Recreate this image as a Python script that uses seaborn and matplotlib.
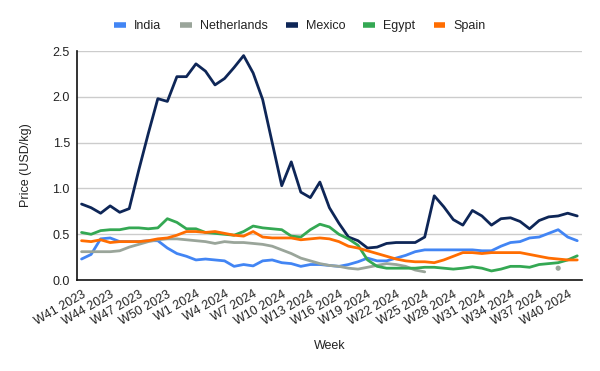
import matplotlib.pyplot as plt
import matplotlib.transforms as mtransforms
import pandas as pd
import seaborn as sns
from matplotlib.lines import Line2D

# Week categories (W41 2023 .. W41 2024)
weeks = [f"W{w} 2023" for w in range(41, 53)] + [f"W{w} 2024" for w in range(1, 42)]

# Prices in USD/kg
india = [0.23, 0.28, 0.45, 0.46, 0.42, 0.42, 0.42, 0.43, 0.43, 0.35,
         0.29, 0.26, 0.22, 0.23, 0.22, 0.21, 0.15, 0.17, 0.155, 0.21,
         0.22, 0.19, 0.18, 0.15, 0.17, 0.17, 0.16, 0.15, 0.17, 0.20,
         0.24, 0.21, 0.21, 0.24, 0.27, 0.31, 0.33, 0.33, 0.33, 0.33,
         0.33, 0.33, 0.32, 0.32, 0.37, 0.41, 0.42, 0.46, 0.47, 0.51,
         0.55, 0.47, 0.43]
netherlands = [0.31, 0.31, 0.31, 0.31, 0.32, 0.36, 0.39, 0.42, 0.44, 0.45,
               0.45, 0.44, 0.43, 0.42, 0.40, 0.42, 0.41, 0.41, 0.40, 0.39,
               0.37, 0.33, 0.29, 0.24, 0.21, 0.18, 0.16, 0.15, 0.13, 0.12,
               0.14, 0.16, 0.18, 0.17, 0.15, 0.11, 0.09, None, None, None,
               None, None, None, None, None, None, None, None, None, None,
               0.13, None, None]
mexico = [0.83, 0.79, 0.73, 0.81, 0.74, 0.78, 1.20, 1.60, 1.98, 1.95,
          2.22, 2.22, 2.36, 2.28, 2.13, 2.20, 2.32, 2.45, 2.26, 1.97,
          1.50, 1.03, 1.29, 0.96, 0.90, 1.07, 0.79, 0.62, 0.47, 0.43,
          0.35, 0.36, 0.40, 0.41, 0.41, 0.41, 0.47, 0.92, 0.80, 0.66,
          0.60, 0.76, 0.70, 0.60, 0.67, 0.68, 0.64, 0.56, 0.65, 0.69,
          0.70, 0.73, 0.70]
egypt = [0.52, 0.50, 0.54, 0.55, 0.55, 0.57, 0.57, 0.56, 0.57, 0.67,
         0.63, 0.56, 0.56, 0.52, 0.51, 0.50, 0.49, 0.53, 0.59, 0.57,
         0.56, 0.55, 0.48, 0.47, 0.55, 0.61, 0.58, 0.50, 0.45, 0.38,
         0.22, 0.15, 0.13, 0.13, 0.13, 0.13, 0.14, 0.14, 0.13, 0.12,
         0.13, 0.145, 0.13, 0.10, 0.12, 0.15, 0.15, 0.14, 0.17, 0.18,
         0.19, 0.22, 0.265]
spain = [0.43, 0.42, 0.44, 0.41, 0.42, 0.42, 0.42, 0.43, 0.45, 0.46,
         0.49, 0.53, 0.53, 0.52, 0.53, 0.51, 0.49, 0.48, 0.53, 0.47,
         0.46, 0.46, 0.46, 0.44, 0.45, 0.46, 0.45, 0.42, 0.37, 0.35,
         0.32, 0.29, 0.26, 0.23, 0.21, 0.20, 0.20, 0.19, 0.22, 0.26,
         0.30, 0.30, 0.29, 0.30, 0.30, 0.30, 0.30, 0.28, 0.26, 0.24,
         0.23, 0.22, 0.22]

countries = ["India", "Netherlands", "Mexico", "Egypt", "Spain"]
colors = {"India": "#4285F4", "Netherlands": "#9AA59A", "Mexico": "#0E2657",
          "Egypt": "#34A853", "Spain": "#FF6D01"}

df = pd.DataFrame({"week": weeks, "India": india, "Netherlands": netherlands,
                   "Mexico": mexico, "Egypt": egypt, "Spain": spain})
long = df.melt(id_vars="week", var_name="country", value_name="price")
long["pos"] = long["week"].map({w: i for i, w in enumerate(weeks)})
long = long.dropna(subset=["price"]).copy()
long["price"] = long["price"].astype(float)
# split lines where data is missing
long["run"] = long.groupby("country")["pos"].transform(lambda p: (p.diff() != 1).cumsum())
run_size = long.groupby(["country", "run"])["pos"].transform("size")

sns.set_theme(style="white")
plt.rcParams["font.family"] = ["Liberation Sans", "DejaVu Sans"]

fig, ax = plt.subplots(figsize=(6, 3.71), dpi=100)
fig.subplots_adjust(left=0.128, right=0.97, top=0.8625, bottom=0.245)

sns.lineplot(data=long, x="pos", y="price", hue="country", units="run",
             estimator=None, palette=colors, hue_order=countries,
             linewidth=2, legend=False, ax=ax)
singles = long[run_size == 1]
sns.scatterplot(data=singles, x="pos", y="price", hue="country", palette=colors,
                s=14, edgecolor="none", legend=False, ax=ax, zorder=3)

ax.set_xlim(-0.5, len(weeks) - 0.5)
ax.set_ylim(0, 2.5)
ax.set_yticks([0, 0.5, 1.0, 1.5, 2.0, 2.5])
ax.set_yticklabels(["0.0", "0.5", "1.0", "1.5", "2.0", "2.5"], fontsize=9, color="#222222")
ax.yaxis.grid(True, color="#cccccc", linewidth=1)
ax.set_axisbelow(True)

tick_pos = list(range(0, len(weeks), 3))
ax.set_xticks(tick_pos)
ax.set_xticklabels([weeks[i] for i in tick_pos], rotation=30, ha="right",
                   rotation_mode="anchor", fontsize=9, color="#222222")
offset = mtransforms.ScaledTranslation(5 / 100, 0, fig.dpi_scale_trans)
for lbl in ax.get_xticklabels():
    lbl.set_transform(lbl.get_transform() + offset)
ax.tick_params(axis="both", length=0)
ax.tick_params(axis="y", pad=5)
ax.tick_params(axis="x", pad=6)

for side in ["top", "right"]:
    ax.spines[side].set_visible(False)
for side in ["left", "bottom"]:
    ax.spines[side].set_color("#111111")
    ax.spines[side].set_linewidth(1.2)

ax.set_xlabel("Week", fontsize=9, color="#222222")
ax.set_ylabel("Price (USD/kg)", fontsize=9, color="#222222")
ax.xaxis.set_label_coords(0.5, -0.26)
ax.yaxis.set_label_coords(-0.089, 0.5)

handles = [Line2D([0], [0], color=colors[c], lw=4, solid_capstyle="butt") for c in countries]
fig.legend(handles, countries, loc="center", bbox_to_anchor=(0.5, 0.93), ncol=5,
           frameon=False, fontsize=9, handlelength=0.95, handletextpad=0.65,
           columnspacing=1.45, labelcolor="#222222")

plt.savefig("out.png", dpi=100)
